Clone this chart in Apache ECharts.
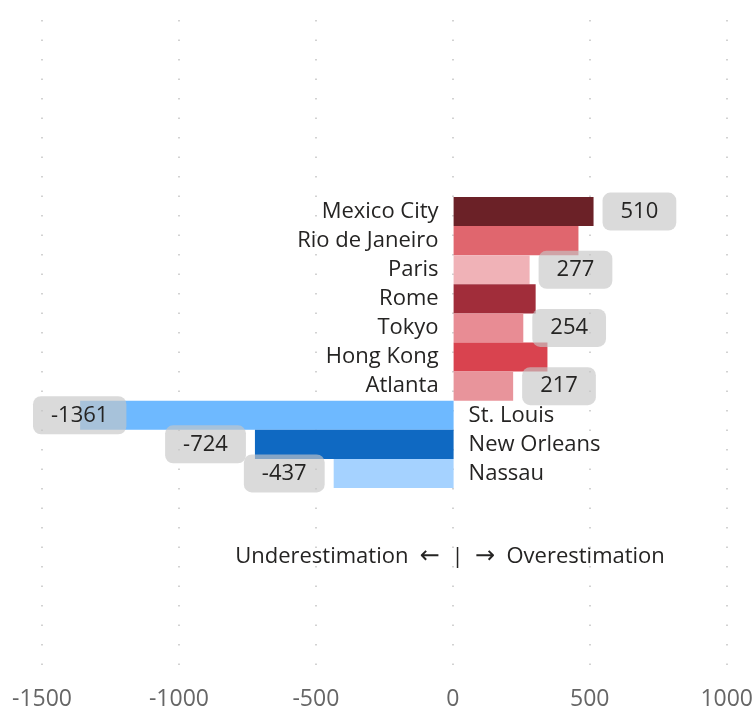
<!DOCTYPE html>
<html>
<head>
<meta charset="utf-8">
<script src="https://cdn.jsdelivr.net/npm/echarts@6/dist/echarts.min.js"></script>
<style>
html,body{margin:0;padding:0;background:#fff;}
#chart{width:756px;height:717px;}
</style>
</head>
<body>
<div id="chart"></div>
<script>
const cities = ['Mexico City','Rio de Janeiro','Paris','Rome','Tokyo','Hong Kong','Atlanta','St. Louis','New Orleans','Nassau'];
const errors = [510, 455, 277, 299, 254, 342, 217, -1361, -724, -437];
const barColors = ['#6B2127','#E0666E','#F0B2B7','#A12D3A','#E88C94','#D9434F','#E8949B','#6EB9FF','#0F69C2','#A5D2FF'];
const labeledCities = ['Mexico City','Paris','Tokyo','Atlanta','St. Louis','New Orleans','Nassau'];
const axisMin = -1500, axisMax = 1000, axisStep = 500;
const leftWord = 'Underestimation', rightWord = 'Overestimation';

const FONT = '"Open Sans", "Noto Sans", sans-serif';
const chart = echarts.init(document.getElementById('chart'));

const barData = errors.map((v, i) => ({
  value: v,
  itemStyle: { color: barColors[i] },
  label: {
    show: labeledCities.indexOf(cities[i]) >= 0,
    position: v >= 0 ? 'right' : 'left'
  }
}));

const nameData = cities.map((c, i) => ({
  value: [0, c],
  label: { position: errors[i] >= 0 ? 'left' : 'right' }
}));

chart.setOption({
  backgroundColor: '#fff',
  animation: false,
  grid: [
    { left: 42, right: 28, top: 20, bottom: 39 },
    { left: 42, right: 28, top: 197, height: 291 }
  ],
  xAxis: [
    {
      gridIndex: 0, type: 'value', min: axisMin, max: axisMax, interval: axisStep,
      axisLine: { show: false }, axisTick: { show: false },
      axisLabel: { color: '#666', fontSize: 23, fontFamily: FONT, margin: 10, formatter: v => String(v) },
      splitLine: { show: true, lineStyle: { color: '#c4c4c4', width: 1.5, type: [1.5, 18] } }
    },
    {
      gridIndex: 1, type: 'value', min: axisMin, max: axisMax, interval: axisStep,
      show: false, splitLine: { show: false }
    }
  ],
  yAxis: [
    { gridIndex: 0, type: 'value', show: false, splitLine: { show: false } },
    { gridIndex: 1, type: 'category', data: cities, inverse: true, show: false }
  ],
  series: [
    {
      type: 'bar', xAxisIndex: 1, yAxisIndex: 1,
      data: barData,
      barCategoryGap: '0%',
      label: {
        distance: 9,
        formatter: p => String(p.value),
        color: '#252423', fontSize: 22, fontFamily: FONT,
        backgroundColor: 'rgba(198,198,198,0.65)',
        borderRadius: 8, padding: [8, 18, 7, 18], lineHeight: 23
      },
      labelLayout: function (params) {
        const r = params.labelRect;
        if (r.x < 33) return { dx: 33 - r.x };
        return {};
      }
    },
    {
      type: 'scatter', xAxisIndex: 1, yAxisIndex: 1,
      symbolSize: 0,
      itemStyle: { opacity: 1 },
      data: nameData,
      silent: true,
      label: {
        show: true, distance: 15, opacity: 1,
        formatter: p => p.value[1],
        color: '#252423', fontSize: 22, fontFamily: FONT
      }
    }
  ],
  graphic: [
    {
      type: 'text', x: 450, y: 557,
      style: {
        text: '{t|' + leftWord + '  }{a|\u2190}{t|  |  }{a|\u2192}{t|  ' + rightWord + '}',
        textAlign: 'center', textVerticalAlign: 'middle',
        rich: {
          t: { fill: '#252423', fontSize: 22, fontFamily: FONT },
          a: { fill: '#252423', fontSize: 24, fontFamily: '"DejaVu Sans", sans-serif' }
        }
      }
    }
  ]
});
</script>
</body>
</html>
